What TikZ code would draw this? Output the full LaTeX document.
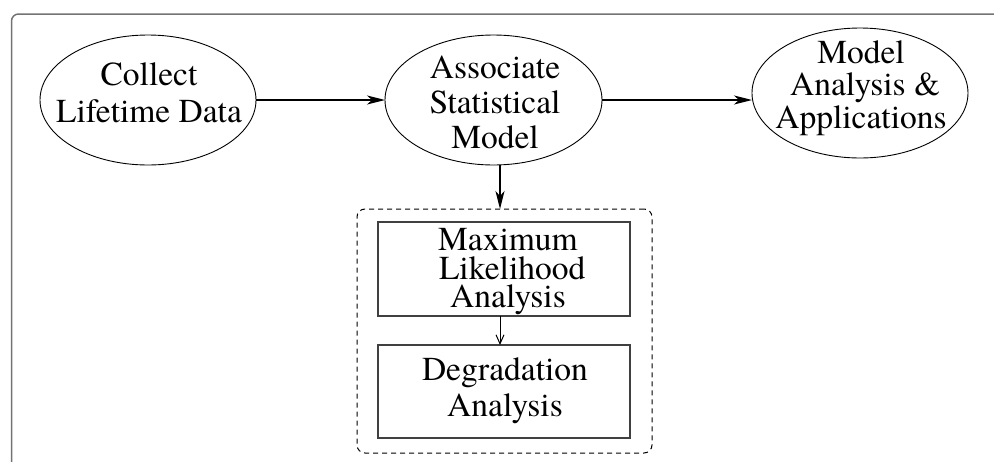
\documentclass[tikz,border=0pt]{standalone}
\usepackage{fontspec}
\setmainfont{texgyretermes-regular.otf}
\newfontfamily\stagefont{texgyretermes-regular.otf}
\usetikzlibrary{arrows.meta,shapes.geometric}

\tikzset{
  stage/.style={ellipse, draw, line width=0.9pt, inner sep=0pt, outer sep=0pt,
                minimum width=216pt, minimum height=130pt},
  method/.style={rectangle, draw=black!75, line width=1.2pt, inner sep=0pt, outer sep=0pt,
                 minimum width=252pt},
  group/.style={rectangle, draw, dashed, dash pattern=on 5pt off 4pt, rounded corners=8pt,
                line width=1pt, inner sep=0pt, outer sep=0pt},
  caption/.style={align=center, inner sep=0pt, outer sep=0pt},
  flow/.style={line width=1.3pt, -{Stealth[length=18pt,width=9pt,inset=5pt]}},
  inner flow/.style={line width=1pt, -{Straight Barb[length=9pt,width=8pt]}},
  frame/.style={draw=black!55, line width=1.5pt, rounded corners=7pt}
}

\begin{document}
\begin{tikzpicture}[x=1pt,y=-1pt]
  \useasboundingbox (0,0) rectangle (994,461);

  % outer panel border, open towards the right and bottom
  \draw[frame] (11.5,470) -- (11.5,14) -- (1005,14);

  % process stages
  \node[stage] (e1) at (148,100) {};
  \node[stage, minimum width=217pt] (e2) at (493.5,100) {};
  \node[stage] (e3) at (860,93) {};

  % analysis methods grouped in a dashed box
  \node[group, minimum width=295pt, minimum height=244pt] (db) at (504.5,331) {};
  \node[method, minimum height=94pt] (b1) at (504,269) {};
  \node[method, minimum height=93pt] (b2) at (504,391.5) {};

  % texts
  \node[caption, font=\stagefont\fontsize{33.5}{37.7}\selectfont] (t1) at (149,92.6)
    {Collect\\Lifetime Data};
  \node[caption, font=\stagefont\fontsize{33.5}{35}\selectfont] (t2) at (495,102.7)
    {Associate\\Statistical\\Model};
  \node[caption, font=\stagefont\fontsize{33.5}{32.5}\selectfont] (t3) at (861,87.7)
    {Model\\\ Analysis \&\\Applications};
  \node[caption, font=\stagefont\fontsize{33.5}{28.5}\selectfont] (t4) at (508,271.7)
    {Maximum\\\ Likelihood\\Analysis};
  \node[caption, font=\stagefont\fontsize{33.5}{36}\selectfont] (t5) at (505,391.2)
    {Degradation\\Analysis};

  % connectors
  \coordinate (col) at (500,0);
  \draw[flow] (e1.east) -- (e2.west);
  \draw[flow] (e2.east) -- (e2.east -| e3.west);
  \draw[flow] (e2.south -| col) -- (db.north -| col);
  \draw[inner flow] (b1.south -| col) -- (b2.north -| col);
\end{tikzpicture}
\end{document}
